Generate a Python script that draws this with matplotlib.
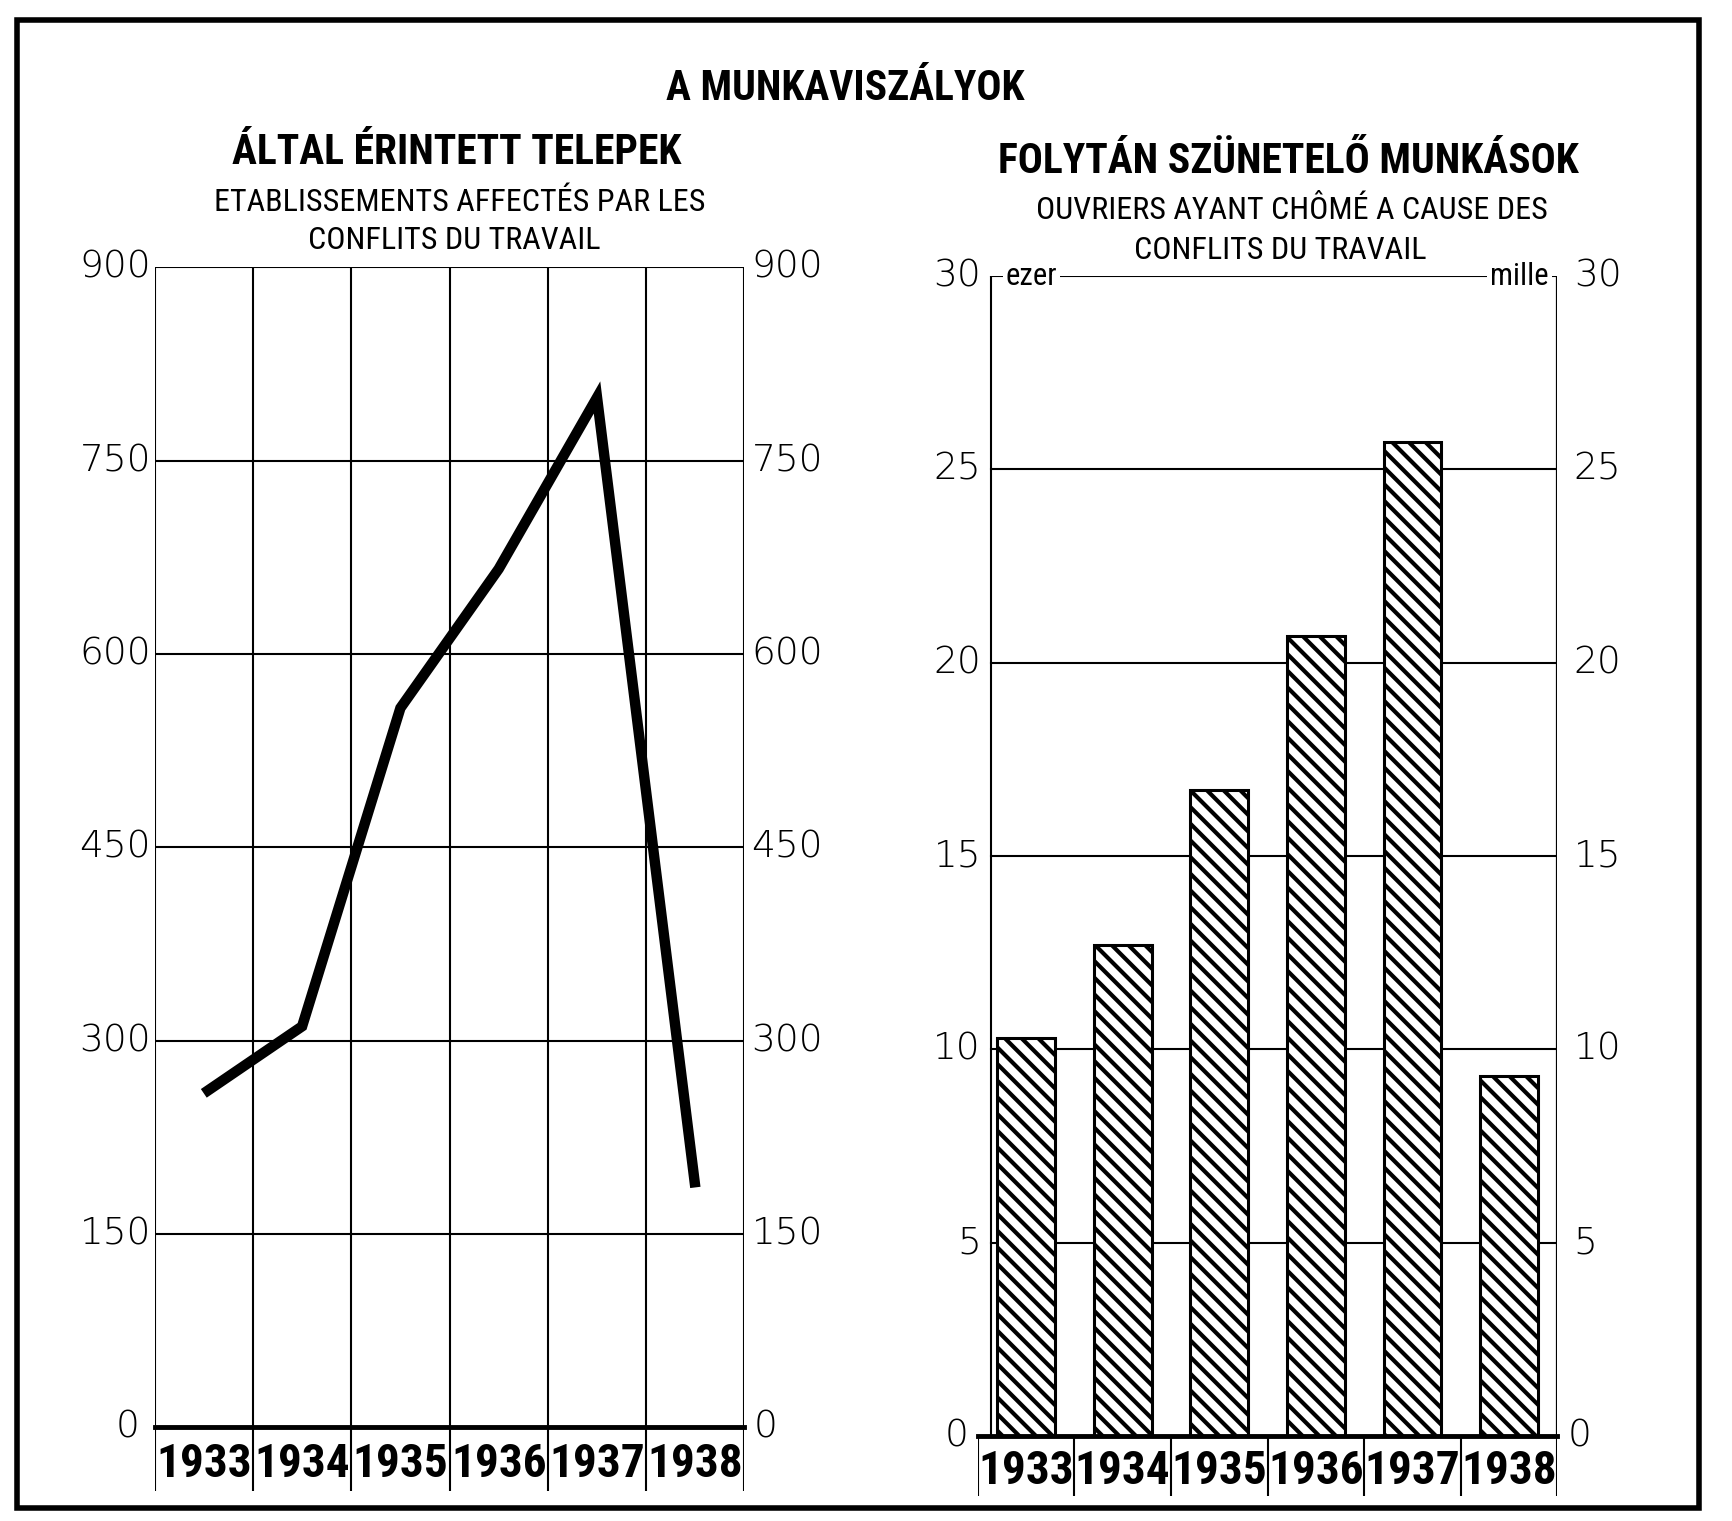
import matplotlib.pyplot as plt
from matplotlib.patches import Rectangle

# data
years = ['1933', '1934', '1935', '1936', '1937', '1938']
establishments = [259, 311, 558, 666, 799, 186]
workers_thousands = [10.3, 12.7, 16.7, 20.7, 25.7, 9.3]
left_ticks = [0, 150, 300, 450, 600, 750, 900]
right_ticks = [0, 5, 10, 15, 20, 25, 30]

# layout is measured on a 1568x1377 grid of the reference
W, H = 1568, 1377

def box(x0, y0, x1, y1):
    return [x0 / W, 1 - y1 / H, (x1 - x0) / W, (y1 - y0) / H]

def fx(x):
    return x / W

def fy(y):
    return 1 - y / H

NARROW = ['DejaVu Sans Condensed', 'Noto Sans Condensed', 'Roboto Condensed',
          'Liberation Sans Narrow', 'Open Sans Condensed', 'DejaVu Sans']
NUM = ['DejaVu Sans']
plt.rcParams['hatch.linewidth'] = 3.0

fig = plt.figure(figsize=(17.32, 15.21), dpi=100)

# outer frame
fig.patches.append(Rectangle((fx(15), fy(1365)), fx(1538) - fx(15), fy(18) - fy(1365),
                             transform=fig.transFigure, fill=False, lw=4, color='black'))

def head(x, y, s, size, bold=False):
    fig.text(fx(x), fy(y), s, ha='center', va='center', family=NARROW,
             fontstretch='condensed', fontweight='bold' if bold else 'normal',
             fontsize=size)

# titles
head(765, 80, 'A MUNKAVISZÁLYOK', 30, True)
head(413, 138, 'ÁLTAL ÉRINTETT TELEPEK', 30, True)
head(416, 183, 'ETABLISSEMENTS AFFECTÉS PAR LES', 23)
head(411, 218, 'CONFLITS DU TRAVAIL', 23)
head(1166, 146, 'FOLYTÁN SZÜNETELŐ MUNKÁSOK', 30, True)
head(1170, 191, 'OUVRIERS AYANT CHÔMÉ A CAUSE DES', 23)
head(1159, 227, 'CONFLITS DU TRAVAIL', 23)

x = list(range(len(years)))

def num_label(ax, xpos, v, ha):
    ax.text(xpos, v, str(v), transform=ax.get_yaxis_transform(), ha=ha, va='center',
            family=NUM, fontweight='light', fontsize=27)

# ---- left chart: line ----
ax1 = fig.add_axes(box(140, 242, 674, 1292))
ax1.set_xlim(-0.5, 5.5)
ax1.set_ylim(0, 900)
ax1.axis('off')
for v in left_ticks[1:]:
    ax1.axhline(v, color='black', lw=1.5)
for b in range(len(years) + 1):
    ax1.axvline(b - 0.5, color='black', lw=1.5)
ax1.axhline(0, color='black', lw=3.5, clip_on=False)
ax1.plot(x, establishments, color='black', lw=7.5,
         solid_joinstyle='miter', solid_capstyle='butt')
for v in left_ticks:
    num_label(ax1, -0.006 if v else -0.025, v, 'right')
    num_label(ax1, 1.012 if v else 1.015, v, 'left')

def year_band(rect):
    band = fig.add_axes(rect)
    band.set_xlim(-0.5, 5.5)
    band.set_ylim(0, 1)
    band.axis('off')
    for b in range(len(years) + 1):
        band.axvline(b - 0.5, color='black', lw=1.5)
    for i, yr in enumerate(years):
        band.text(i, 0.42, yr, ha='center', va='center', family=NARROW,
                  fontstretch='condensed', fontweight='bold', fontsize=34)

year_band(box(140, 1292, 674, 1350))

# ---- right chart: bars ----
ax2 = fig.add_axes(box(885, 250, 1410, 1300))
ax2.set_xlim(-0.5, 5.5)
ax2.set_ylim(0, 30)
ax2.axis('off')
left_edge = 12 / 525
for v in right_ticks[1:]:
    ax2.axhline(v, xmin=left_edge, xmax=1.0, color='black', lw=1.5)
ax2.axvline(-0.5 + 6 * left_edge, color='black', lw=1.5)
ax2.axvline(5.5, color='black', lw=1.6)
ax2.bar(x, workers_thousands, width=0.6, color='white', edgecolor='black',
        lw=2.2, hatch='\\\\', zorder=3)
ax2.axhline(0, color='black', lw=3.5, clip_on=False, zorder=4)
for v in right_ticks:
    num_label(ax2, 0.006 if v else -0.015, v, 'right')
    num_label(ax2, 1.028 if v else 1.018, v, 'left')
ax2.text(0.048, 30, 'ezer', transform=ax2.get_yaxis_transform(), ha='left', va='center',
         family=NARROW, fontstretch='condensed', fontsize=22, zorder=5,
         bbox=dict(facecolor='white', edgecolor='none', pad=2))
ax2.text(0.985, 30, 'mille', transform=ax2.get_yaxis_transform(), ha='right', va='center',
         family=NARROW, fontstretch='condensed', fontsize=22, zorder=5,
         bbox=dict(facecolor='white', edgecolor='none', pad=2))

year_band(box(885, 1300, 1410, 1354))

fig.savefig('out.png', dpi=100)
